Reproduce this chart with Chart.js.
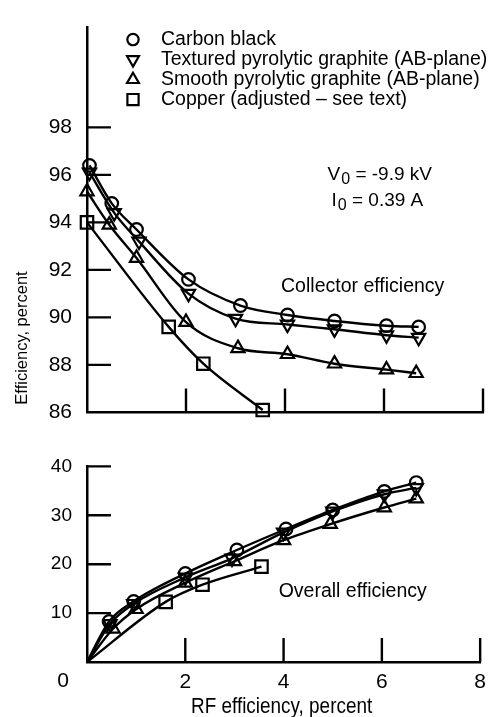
<!DOCTYPE html>
<html>
<head>
<meta charset="utf-8">
<script src="https://cdn.jsdelivr.net/npm/chart.js@4.4.1/dist/chart.umd.min.js"></script>
<style>
  html, body { margin: 0; padding: 0; background: #fff; }
  #wrap { position: relative; width: 494px; height: 717px; }
  #top, #bottom { position: absolute; left: 0; }
  #top { top: 0; }
  #bottom { top: 440px; }
</style>
</head>
<body>
<div id="wrap">
  <canvas id="top" width="494" height="440"></canvas>
  <canvas id="bottom" width="494" height="277"></canvas>
</div>
<script>
const FONT = '"Liberation Sans", Arial, sans-serif';

const seriesNames = [
  "Carbon black",
  "Textured pyrolytic graphite (AB-plane)",
  "Smooth pyrolytic graphite (AB-plane)",
  "Copper (adjusted \u2013 see text)"
];

// collector efficiency vs RF efficiency (percent)
const carbonRf      = [0.05, 0.5, 1.0, 2.05, 3.1, 4.05, 5.0, 6.05, 6.7];
const carbonColl    = [96.4, 94.8, 93.7, 91.6, 90.5, 90.1, 89.85, 89.65, 89.6];
const texturedRf    = [0.05, 0.55, 1.05, 2.05, 3.0, 4.05, 5.0, 6.05, 6.7];
const texturedColl  = [96.1, 94.4, 93.2, 91.0, 89.95, 89.7, 89.5, 89.25, 89.15];
const smoothRf      = [0.0, 0.45, 1.0, 2.0, 3.05, 4.05, 5.0, 6.05, 6.65];
const smoothColl    = [95.3, 93.9, 92.5, 89.8, 88.7, 88.45, 88.05, 87.8, 87.65];
const copperRf      = [0.0, 1.65, 2.35, 3.55];
const copperColl    = [94.0, 89.6, 88.05, 86.1];

// overall efficiency vs RF efficiency (percent), curves start at the origin
const carbonOvRf    = [0, 0.45, 0.95, 2.0, 3.05, 4.05, 5.0, 6.05, 6.7];
const carbonOv      = [0, 8.3, 12.4, 18.1, 22.9, 27.2, 31.1, 34.9, 36.7];
const texturedOvRf  = [0, 0.47, 0.95, 2.0, 2.95, 4.0, 5.0, 6.05, 6.7];
const texturedOv    = [0, 7.8, 11.9, 17.3, 21.2, 26.5, 30.8, 34.3, 35.6];
const smoothOvRf    = [0, 0.53, 1.0, 2.0, 3.0, 4.0, 4.95, 6.05, 6.7];
const smoothOv      = [0, 6.8, 10.8, 16.2, 20.6, 24.9, 28.2, 31.6, 33.4];
const copperOvRf    = [0, 1.6, 2.35, 3.55];
const copperOv      = [0, 12.3, 15.8, 19.5];

const xTicks = [0, 2, 4, 6, 8];
const yTicksColl = [86, 88, 90, 92, 94, 96, 98];
const yTicksOv = [0, 10, 20, 30, 40];

const markerStyle = ['circle', 'triangle', 'triangle', 'rect'];
const markerRotation = [0, 180, 0, 0];
const markerRadius = [6.3, 7.6, 7.6, 8.8];

Chart.defaults.font.family = FONT;
Chart.defaults.color = '#000';

function buildSets(xs, ys) {
  return seriesNames.map((name, i) => ({
    label: name,
    data: xs[i].map((x, j) => ({ x: x, y: ys[i][j] })),
    borderColor: '#000',
    borderWidth: 2.4,
    pointStyle: markerStyle[i],
    pointRotation: markerRotation[i],
    // the origin anchors the overall curves but carries no marker
    pointRadius: (c) => (c.raw && c.raw.x === 0 && c.raw.y === 0) ? 0 : markerRadius[i],
    pointBorderWidth: 2.2,
    pointBorderColor: '#000',
    pointBackgroundColor: 'rgba(0,0,0,0)',
    cubicInterpolationMode: 'monotone',
    fill: false,
    clip: false
  }));
}

// tick marks drawn inward from the axes
const innerTicks = {
  id: 'innerTicks',
  afterDatasetsDraw(chart) {
    const { ctx, chartArea, scales } = chart;
    ctx.save();
    ctx.strokeStyle = '#000';
    ctx.lineWidth = 2.4;
    ctx.beginPath();
    scales.y.ticks.forEach((t) => {
      const py = scales.y.getPixelForValue(t.value);
      if (py >= chartArea.bottom - 1) return;
      ctx.moveTo(chartArea.left, py);
      ctx.lineTo(chartArea.left + 24, py);
    });
    scales.x.ticks.forEach((t) => {
      const px = scales.x.getPixelForValue(t.value);
      if (px <= chartArea.left + 1) return;
      ctx.moveTo(px, chartArea.bottom);
      ctx.lineTo(px, chartArea.bottom - 24);
    });
    ctx.stroke();
    ctx.restore();
  }
};

// text drawn slightly condensed
function label(ctx, text, x, y, size, squeeze) {
  ctx.save();
  ctx.translate(x, y);
  ctx.scale(squeeze || 1, 1);
  ctx.font = size + 'px ' + FONT;
  ctx.fillText(text, 0, 0);
  ctx.restore();
}

// text with a subscript, e.g. V0
function subText(ctx, x, y, base, sub, rest) {
  ctx.font = '19px ' + FONT;
  ctx.fillText(base, x, y);
  let w = ctx.measureText(base).width;
  ctx.font = '16px ' + FONT;
  ctx.fillText(sub, x + w + 1, y + 4);
  w += ctx.measureText(sub).width + 1;
  ctx.font = '19px ' + FONT;
  ctx.fillText(rest, x + w, y);
}

const collectorNotes = {
  id: 'collectorNotes',
  afterDraw(chart) {
    const { ctx, chartArea, scales } = chart;
    ctx.save();
    ctx.textBaseline = 'middle';
    ctx.textAlign = 'left';
    // key
    chart.data.datasets.forEach((ds, i) => {
      const y = chartArea.top + 12 + i * 20;
      ctx.fillStyle = '#fff';
      ctx.strokeStyle = '#000';
      ctx.lineWidth = 2.2;
      Chart.helpers.drawPoint(ctx, {
        pointStyle: ds.pointStyle,
        rotation: ds.pointRotation,
        radius: markerRadius[i] * 0.9,
        borderWidth: 2.2
      }, chartArea.left + 46, y);
      ctx.fillStyle = '#000';
      label(ctx, ds.label, chartArea.left + 74, y, 19.5);
    });
    // operating point
    ctx.textBaseline = 'alphabetic';
    subText(ctx, scales.x.getPixelForValue(4.86), scales.y.getPixelForValue(95.8), 'V', '0', ' = -9.9 kV');
    subText(ctx, scales.x.getPixelForValue(4.94), scales.y.getPixelForValue(94.7), 'I', '0', ' = 0.39 A');
    ctx.textBaseline = 'middle';
    label(ctx, 'Collector efficiency', scales.x.getPixelForValue(3.92), scales.y.getPixelForValue(91.3), 19.5);
    // shared axis title
    ctx.translate(22, 338);
    ctx.rotate(-Math.PI / 2);
    ctx.textAlign = 'center';
    label(ctx, 'Efficiency, percent', 0, 0, 16.5);
    ctx.restore();
  }
};

const overallNotes = {
  id: 'overallNotes',
  afterDraw(chart) {
    const { ctx, chartArea, scales } = chart;
    ctx.save();
    ctx.fillStyle = '#000';
    ctx.textBaseline = 'middle';
    ctx.textAlign = 'left';
    label(ctx, 'Overall efficiency', scales.x.getPixelForValue(3.9), scales.y.getPixelForValue(14.3), 19.5);
    // corner zero
    ctx.textAlign = 'center';
    label(ctx, '0', chartArea.left - 24, chartArea.bottom + 19, 21);
    // axis title
    label(ctx, 'RF efficiency, percent', (chartArea.left + chartArea.right) / 2 - 2, chartArea.bottom + 45, 21.5, 0.88);
    ctx.restore();
  }
};

function axisBorder() {
  return { display: true, color: '#000', width: 2.5 };
}

new Chart(document.getElementById('top'), {
  type: 'line',
  data: {
    datasets: buildSets(
      [carbonRf, texturedRf, smoothRf, copperRf],
      [carbonColl, texturedColl, smoothColl, copperColl])
  },
  options: {
    responsive: false,
    animation: false,
    layout: { padding: { top: 10, right: 7, left: 0, bottom: 0 } },
    scales: {
      x: {
        type: 'linear', min: 0, max: 8,
        afterBuildTicks: (s) => { s.ticks = xTicks.map((v) => ({ value: v })); },
        afterFit: (s) => { s.height = 18; },
        grid: { display: false },
        border: axisBorder(),
        ticks: { display: false }
      },
      y: {
        type: 'linear', min: 86, max: 102.2,
        afterBuildTicks: (s) => { s.ticks = yTicksColl.map((v) => ({ value: v })); },
        afterFit: (s) => { s.width = 87; },
        grid: { display: false, drawTicks: false },
        border: axisBorder(),
        ticks: { padding: 15, font: { size: 21 } }
      }
    },
    plugins: { legend: { display: false }, tooltip: { enabled: false } }
  },
  plugins: [innerTicks, collectorNotes]
});

new Chart(document.getElementById('bottom'), {
  type: 'line',
  data: {
    datasets: buildSets(
      [carbonOvRf, texturedOvRf, smoothOvRf, copperOvRf],
      [carbonOv, texturedOv, smoothOv, copperOv])
  },
  options: {
    responsive: false,
    animation: false,
    layout: { padding: { top: 23, right: 7, left: 0, bottom: 0 } },
    scales: {
      x: {
        type: 'linear', min: 0, max: 8,
        afterBuildTicks: (s) => { s.ticks = xTicks.map((v) => ({ value: v })); },
        afterFit: (s) => { s.height = 55; },
        grid: { display: false, drawTicks: false },
        border: axisBorder(),
        ticks: {
          padding: 8, font: { size: 21 },
          callback: (v) => (v === 0 ? '' : v)
        }
      },
      y: {
        type: 'linear', min: 0, max: 40,
        afterBuildTicks: (s) => { s.ticks = yTicksOv.map((v) => ({ value: v })); },
        afterFit: (s) => { s.width = 87; },
        grid: { display: false, drawTicks: false },
        border: axisBorder(),
        ticks: {
          padding: 15, font: { size: 19 },
          callback: (v) => (v === 0 ? '' : v)
        }
      }
    },
    plugins: { legend: { display: false }, tooltip: { enabled: false } }
  },
  plugins: [innerTicks, overallNotes]
});
</script>
</body>
</html>
